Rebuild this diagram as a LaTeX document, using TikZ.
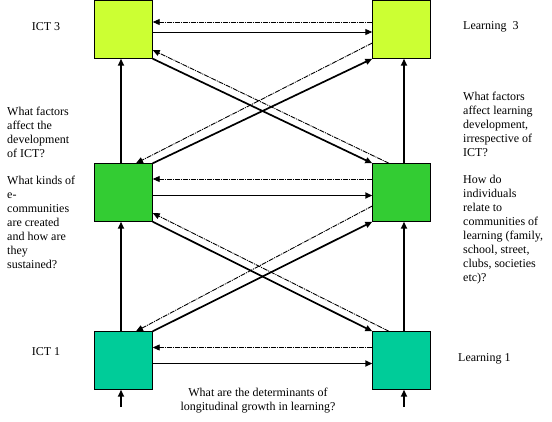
\documentclass[tikz,border=0pt]{standalone}
\usepackage{fontspec}
\setmainfont{Liberation Serif}
\usetikzlibrary{arrows.meta}

\definecolor{topgreen}{HTML}{CCFF33}
\definecolor{midgreen}{HTML}{33CC33}
\definecolor{lowgreen}{HTML}{00CC99}

\begin{document}
\begin{tikzpicture}[x=1pt,y=-1pt,
	box/.style={draw,minimum width=58pt,minimum height=58pt,inner sep=0pt},
	txt/.style={font=\fontsize{12}{14}\selectfont,align=left,inner sep=0pt},
	tip/.style={-{Triangle[length=7pt,width=6pt]}},
	dsh/.style={tip,line width=0.9pt,dash pattern=on 5pt off 1pt on 1pt off 1pt},
	thin2/.style={tip,line width=0.9pt},
	thick2/.style={tip,line width=1.7pt}]

	\useasboundingbox (0,0) rectangle (552,421);

	% the six boxes
	\node[box,fill=topgreen] (ict3) at (123.5,29.5) {};
	\node[box,fill=topgreen] (lrn3) at (401.5,29.5) {};
	\node[box,fill=midgreen] (ict2) at (123.5,192.5) {};
	\node[box,fill=midgreen] (lrn2) at (401.5,192.5) {};
	\node[box,fill=lowgreen] (ict1) at (123.5,360.5) {};
	\node[box,fill=lowgreen] (lrn1) at (401.5,360.5) {};

	\coordinate (ictin) at (121,407);
	\coordinate (lrnin) at (404,407);

	% growth upwards
	\draw[thick2] (ictin) -- ([xshift=-2.5pt]ict1.south);
	\draw[thick2] (lrnin) -- ([xshift=2.5pt]lrn1.south);
	\draw[thick2] ([xshift=-2.5pt]ict1.north) -- ([xshift=-2.5pt]ict2.south);
	\draw[thick2] ([xshift=2.5pt]lrn1.north) -- ([xshift=2.5pt]lrn2.south);
	\draw[thick2] ([xshift=-2.5pt]ict2.north) -- ([xshift=-2.5pt]ict3.south);
	\draw[thick2] ([xshift=2.5pt]lrn2.north) -- ([xshift=2.5pt]lrn3.south);

	% across each row
	\draw[dsh] ([yshift=7.5pt]lrn3.west) -- ([yshift=7.5pt]ict3.east);
	\draw[thin2] ([yshift=-2.5pt]ict3.east) -- ([yshift=-2.5pt]lrn3.west);
	\draw[dsh] ([yshift=13.5pt]lrn2.west) -- ([yshift=13.5pt]ict2.east);
	\draw[thick2] ([yshift=-3pt]ict2.east) -- ([yshift=-3pt]lrn2.west);
	\draw[dsh] ([yshift=13pt]lrn1.west) -- ([yshift=13pt]ict1.east);
	\draw[thick2] ([yshift=-3pt]ict1.east) -- ([yshift=-3pt]lrn1.west);

	% crossing links
	\draw[thick2] (ict3.south east) -- (lrn2.north west);
	\draw[thick2] (ict2.north east) -- (lrn3.south west);
	\draw[dsh] ([xshift=-12.5pt]lrn2.north) -- ([yshift=-20.5pt]ict3.east);
	\draw[dsh] ([yshift=-13.5pt]lrn3.west) -- ([xshift=12.5pt]ict2.north);
	\draw[thick2] (ict2.south east) -- (lrn1.north west);
	\draw[thick2] (ict1.north east) -- (lrn2.south west);
	\draw[dsh] ([xshift=-12.5pt]lrn1.north) -- ([yshift=-20.5pt]ict2.east);
	\draw[dsh] ([yshift=-13.5pt]lrn2.west) -- ([xshift=12.5pt]ict1.north);

	% labels
	\node[txt] (t3) at (46,27) {ICT 3};
	\node[txt,anchor=west] (l3) at (463,27) {Learning\ \ 3};
	\node[txt] (t1) at (46,352) {ICT 1};
	\node[txt,anchor=west] (l1) at (458,359) {Learning 1};
	\node[txt,anchor=north west] (q1) at (7,107) {What factors\\affect the\\development\\of ICT?};
	\node[txt,anchor=north west] (q2) at (7,176) {What kinds of\\e-\\communities\\are created\\and how are\\they\\sustained?};
	\node[txt,anchor=north west] (q3) at (463,92) {What factors\\affect learning\\development,\\irrespective of\\ICT?};
	\node[txt,anchor=north west] (q4) at (463,175) {How do\\individuals\\relate to\\communities of\\learning (family,\\school, street,\\clubs, societies\\etc)?};
	\node[txt,align=center] (q5) at (258,401) {What are the determinants of\\longitudinal growth in learning?};

\end{tikzpicture}
\end{document}
